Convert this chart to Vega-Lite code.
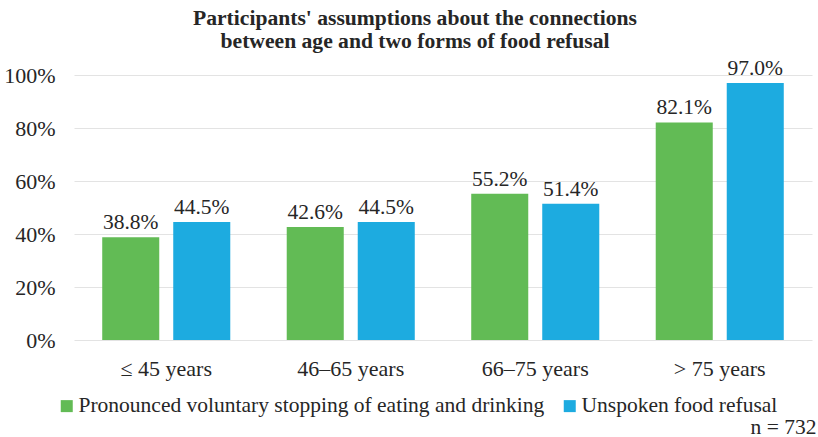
{
  "$schema": "https://vega.github.io/schema/vega-lite/v6.json",
  "width": 738,
  "height": 265,
  "autosize": "none",
  "padding": {"left": 74, "top": 75, "right": 6, "bottom": 97},
  "background": "white",
  "title": {
    "text": ["Participants' assumptions about the connections", "between age and two forms of food refusal"],
    "font": "Liberation Serif",
    "fontSize": 21.6,
    "fontWeight": "bold",
    "color": "#262626",
    "anchor": "middle",
    "dx": -28,
    "offset": 5,
    "lineHeight": 23.5
  },
  "data": {
    "values": [
      {"age": "≤ 45 years", "form": "Pronounced voluntary stopping of eating and drinking", "share": 0.388},
      {"age": "≤ 45 years", "form": "Unspoken food refusal", "share": 0.445},
      {"age": "46–65 years", "form": "Pronounced voluntary stopping of eating and drinking", "share": 0.426},
      {"age": "46–65 years", "form": "Unspoken food refusal", "share": 0.445},
      {"age": "66–75 years", "form": "Pronounced voluntary stopping of eating and drinking", "share": 0.552},
      {"age": "66–75 years", "form": "Unspoken food refusal", "share": 0.514},
      {"age": "> 75 years", "form": "Pronounced voluntary stopping of eating and drinking", "share": 0.821},
      {"age": "> 75 years", "form": "Unspoken food refusal", "share": 0.970}
    ]
  },
  "encoding": {
    "x": {
      "field": "age",
      "type": "nominal",
      "sort": ["≤ 45 years", "46–65 years", "66–75 years", "> 75 years"],
      "scale": {"paddingInner": 0.306, "paddingOuter": 0.153},
      "axis": {
        "title": "n = 732",
        "titleFont": "Liberation Serif",
        "titleFontSize": 21.5,
        "titleFontWeight": "normal",
        "titleColor": "#262626",
        "titleX": 742,
        "titleY": 93,
        "titleAlign": "right",
        "titleBaseline": "alphabetic",
        "labelAngle": 0,
        "labelFont": "Liberation Serif",
        "labelFontSize": 22,
        "labelColor": "#262626",
        "labelPadding": 18,
        "ticks": false,
        "domain": false,
        "grid": false
      }
    },
    "xOffset": {
      "field": "form",
      "type": "nominal",
      "sort": ["Pronounced voluntary stopping of eating and drinking", "Unspoken food refusal"],
      "scale": {"paddingInner": 0.197, "paddingOuter": 0}
    },
    "y": {
      "field": "share",
      "type": "quantitative",
      "scale": {"domain": [0, 1]},
      "axis": {
        "title": null,
        "format": ".0%",
        "values": [0, 0.2, 0.4, 0.6, 0.8, 1],
        "labelFont": "Liberation Serif",
        "labelFontSize": 22,
        "labelColor": "#262626",
        "labelPadding": 19,
        "ticks": false,
        "domain": false,
        "grid": true,
        "gridColor": "#e3e3e3",
        "gridWidth": 1
      }
    }
  },
  "layer": [
    {
      "mark": {"type": "bar"},
      "encoding": {
        "color": {
          "field": "form",
          "type": "nominal",
          "sort": ["Pronounced voluntary stopping of eating and drinking", "Unspoken food refusal"],
          "scale": {
            "domain": ["Pronounced voluntary stopping of eating and drinking", "Unspoken food refusal"],
            "range": ["#62BB55", "#1DABE0"]
          },
          "legend": {
            "title": null,
            "orient": "none",
            "legendX": -18,
            "legendY": 320,
            "direction": "horizontal",
            "symbolType": "square",
            "symbolSize": 144,
            "symbolStrokeWidth": 0,
            "labelFont": "Liberation Serif",
            "labelFontSize": 21.5,
            "labelColor": "#262626",
            "labelOffset": 1,
            "labelLimit": 0,
            "columnPadding": 14
          }
        }
      }
    },
    {
      "mark": {
        "type": "text",
        "dy": -8,
        "baseline": "alphabetic",
        "font": "Liberation Serif",
        "fontSize": 21.5,
        "color": "#262626"
      },
      "encoding": {
        "text": {"field": "share", "type": "quantitative", "format": ".1%"}
      }
    }
  ],
  "config": {"view": {"stroke": null}}
}
